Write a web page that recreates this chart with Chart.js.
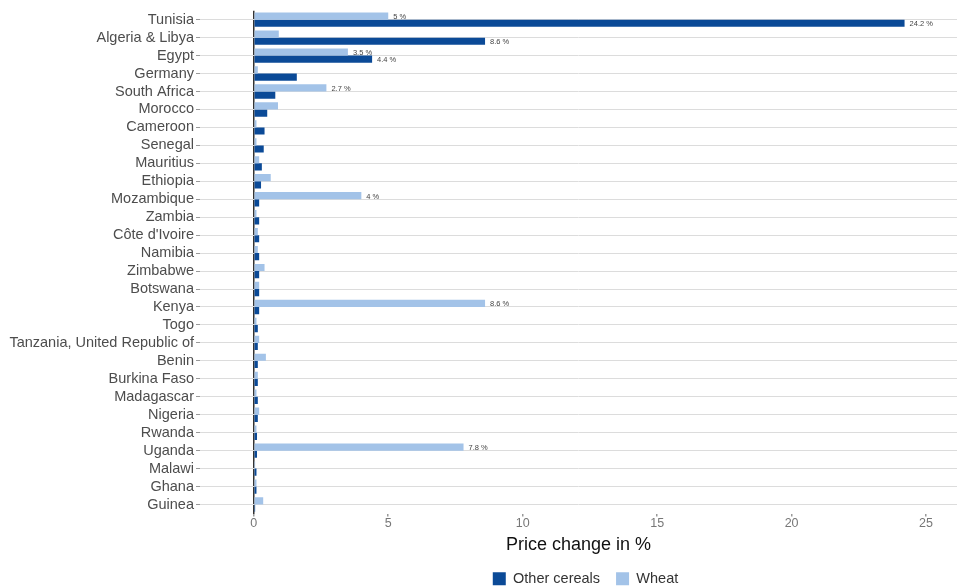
<!DOCTYPE html>
<html><head><meta charset="utf-8">
<script src="https://cdn.jsdelivr.net/npm/chart.js@4/dist/chart.umd.min.js"></script>
<style>html,body{margin:0;padding:0;background:#fff}#w{width:960px;height:587px}</style>
</head><body><div id="w"><canvas id="c"></canvas></div>
<script>
const countries = ["Tunisia","Algeria & Libya","Egypt","Germany","South Africa","Morocco","Cameroon","Senegal","Mauritius","Ethiopia","Mozambique","Zambia","Côte d'Ivoire","Namibia","Zimbabwe","Botswana","Kenya","Togo","Tanzania, United Republic of","Benin","Burkina Faso","Madagascar","Nigeria","Rwanda","Uganda","Malawi","Ghana","Guinea"];
const wheat = [5,0.93,3.5,0.15,2.7,0.9,0.1,0.1,0.2,0.63,4,0.1,0.15,0.15,0.4,0.2,8.6,0.1,0.2,0.45,0.15,0.1,0.2,0.1,7.8,0.05,0.1,0.35];
const otherCereals = [24.2,8.6,4.4,1.6,0.8,0.5,0.4,0.37,0.3,0.27,0.2,0.2,0.2,0.2,0.2,0.2,0.2,0.15,0.15,0.15,0.15,0.15,0.15,0.12,0.12,0.1,0.1,0.05];
const xTicks = [0,5,10,15,20,25];
const labelThreshold = 2.5;
const FONT = '"Liberation Sans", Arial, sans-serif';

const valueLabels = {
  id:'valueLabels',
  afterDatasetsDraw(chart){
    const ctx = chart.ctx;
    ctx.save();
    ctx.font = '7.5px ' + FONT;
    ctx.fillStyle = '#444';
    ctx.textBaseline = 'middle';
    ctx.textAlign = 'left';
    chart.data.datasets.forEach((ds,i)=>{
      const meta = chart.getDatasetMeta(i);
      meta.data.forEach((bar,j)=>{
        const v = ds.data[j];
        if (v >= labelThreshold) ctx.fillText(v + ' %', bar.x + 5, bar.y + 1);
      });
    });
    ctx.restore();
  }
};

const legendShift = {
  id:'legendShift',
  afterLayout(chart){
    if (chart.legend){ chart.legend.left += 107; chart.legend.right += 107; }
  }
};

new Chart(document.getElementById('c'), {
  type:'bar',
  data:{
    labels: countries,
    datasets:[
      {label:'Wheat', data: wheat, backgroundColor:'#a3c3e8', categoryPercentage:0.8, barPercentage:1},
      {label:'Other cereals', data: otherCereals, backgroundColor:'#0b4a97', categoryPercentage:0.8, barPercentage:1}
    ]
  },
  plugins:[valueLabels, legendShift],
  options:{
    indexAxis:'y',
    responsive:true,
    maintainAspectRatio:false,
    animation:false,
    layout:{padding:{top:9,right:3,left:0,bottom:-9}},
    plugins:{
      legend:{position:'bottom', reverse:true,
        labels:{boxWidth:13, boxHeight:13, color:'#333', font:{size:14.5, family:FONT}, padding:16}},
      tooltip:{enabled:false}
    },
    scales:{
      x:{
        min:-2.0, max:26.15,
        afterBuildTicks(s){ s.ticks = xTicks.map(v=>({value:v})); },
        afterFit(s){ s.height = 42; },
        border:{display:false},
        grid:{color:(c)=> (c.tick && c.tick.value===0) ? '#333' : 'rgba(0,0,0,0)', lineWidth:1.5, tickColor:'#999', tickLength:3, drawTicks:true},
        ticks:{color:'#777', font:{size:12.5, family:FONT}, padding:0},
        title:{display:true, text:'Price change in %', color:'#111', font:{size:18, family:FONT}, padding:{top:0,bottom:0}}
      },
      y:{
        border:{display:false},
        grid:{offset:false, color:'#dcdcdc', lineWidth:1, tickLength:4, tickColor:'#999'},
        ticks:{color:'#4d4d4d', font:{size:14.5, family:FONT}, padding:2, autoSkip:false},
        afterFit(s){ s.width = 200; }
      }
    }
  }
});
</script></body></html>
